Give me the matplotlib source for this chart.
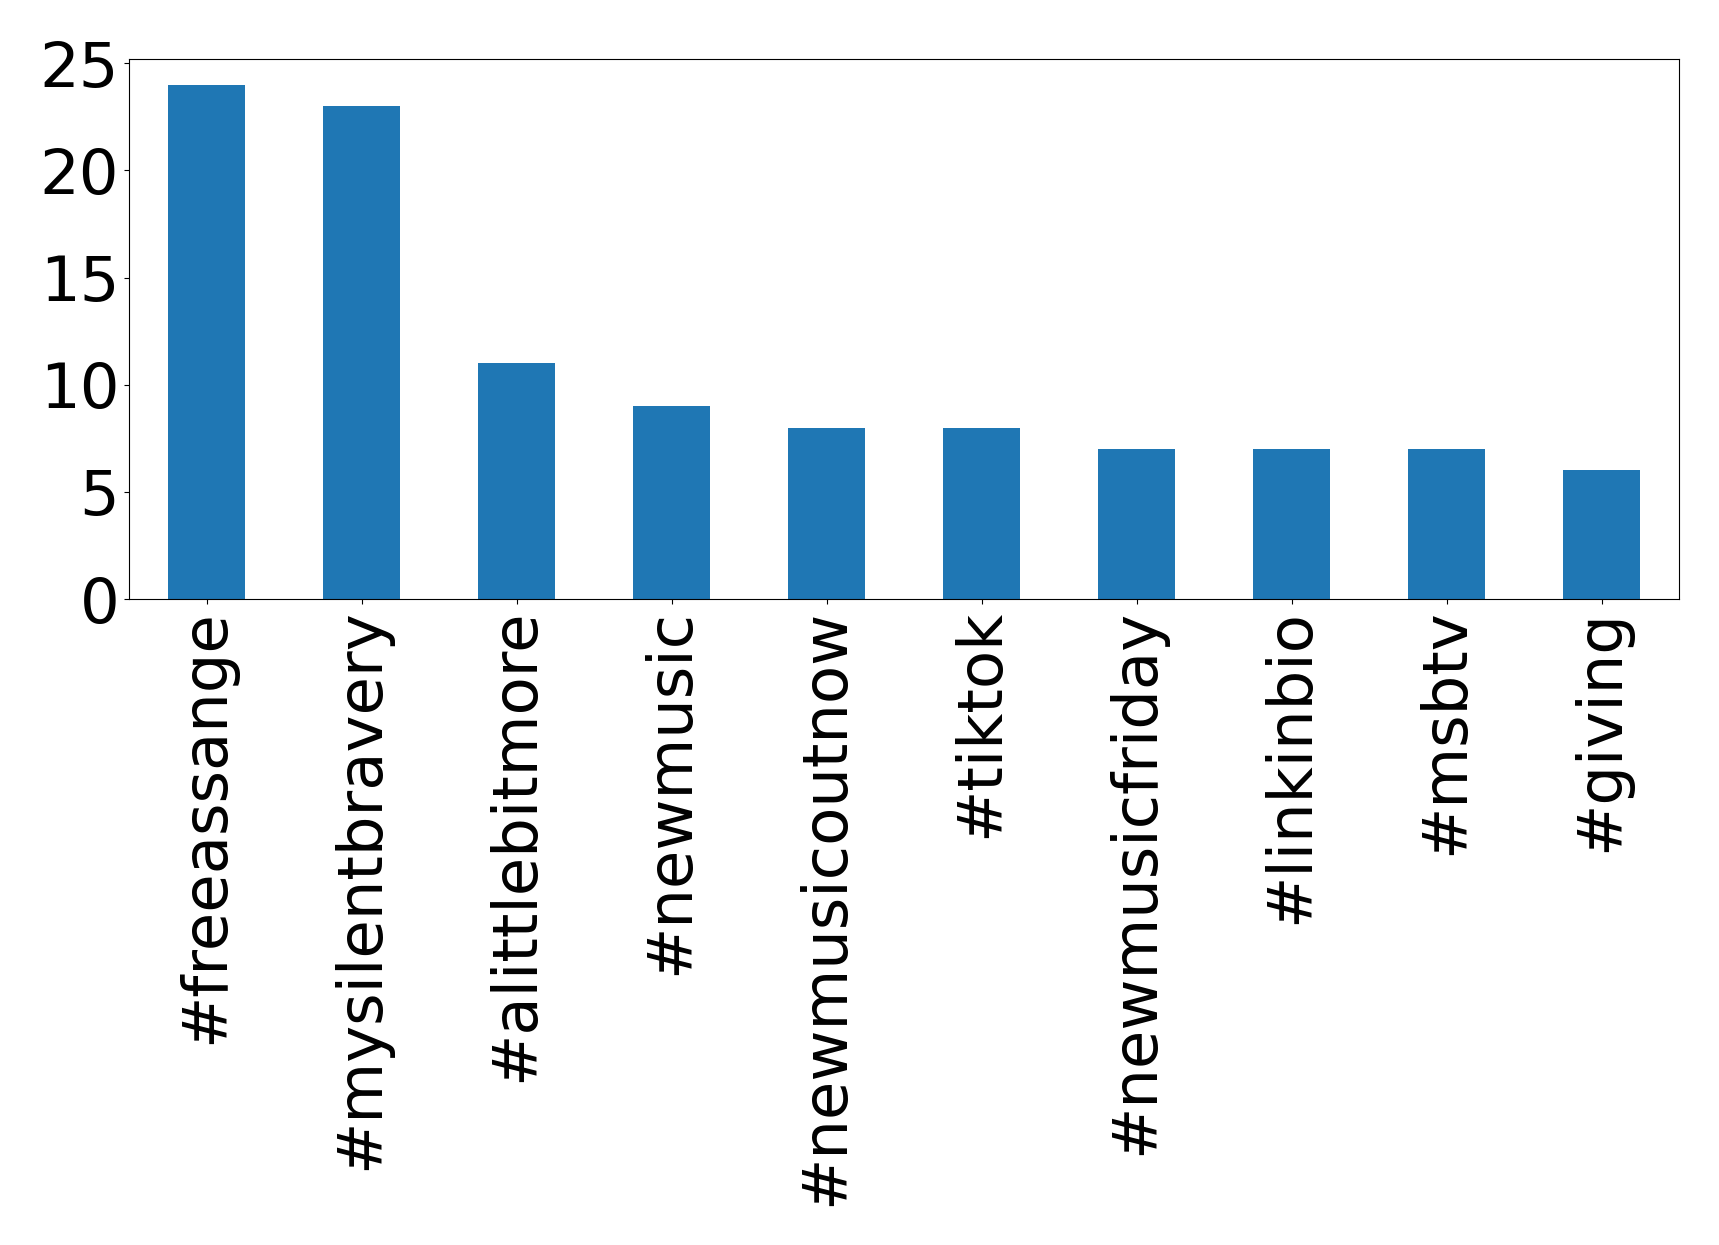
import matplotlib
matplotlib.use("Agg")
import matplotlib.pyplot as plt

categories = ["#freeassange", "#mysilentbravery", "#alittlebitmore", "#newmusic",
              "#newmusicoutnow", "#tiktok", "#newmusicfriday", "#linkinbio",
              "#msbtv", "#giving"]
counts = [24, 23, 11, 9, 8, 8, 7, 7, 7, 6]

fig = plt.figure(figsize=(17.19, 12.45), dpi=100)
W, H = 1719, 1245
left, right, top, bottom = 129, 1679, 59, 599
ax = fig.add_axes([left / W, 1 - bottom / H, (right - left) / W, (bottom - top) / H])
x = list(range(len(categories)))
ax.bar(x, counts, width=0.5, color="#1f77b4")
ax.set_xlim(-0.5, len(categories) - 0.5)
ax.set_ylim(0, max(counts) * 1.05)
ax.set_yticks([0, 5, 10, 15, 20, 25])
ax.set_xticks(x)
ax.set_xticklabels(categories, rotation=90)
ax.tick_params(axis="both", labelsize=45)
fig.savefig("out.png", dpi=100)
